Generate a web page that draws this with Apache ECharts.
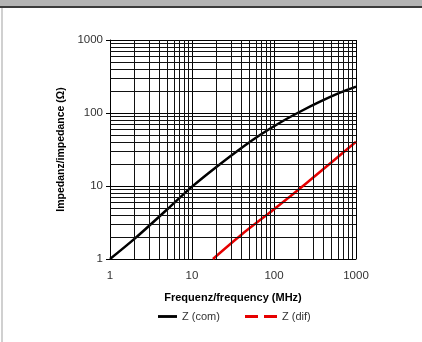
<!DOCTYPE html>
<html>
<head>
<meta charset="utf-8">
<script src="https://cdn.jsdelivr.net/npm/echarts@6/dist/echarts.min.js"></script>
<style>
  html, body { margin: 0; padding: 0; background: #fff; }
  #chart { width: 422px; height: 342px; }
</style>
</head>
<body>
<div id="chart"></div>
<script>
// values (log-log)
const comFreq = [1, 2, 5, 10, 20, 42, 67.5, 118, 207, 364, 638, 1000];
const comZ = [1, 1.9, 4.8, 9.8, 18.4, 34.5, 50, 73.6, 104, 143, 190, 230];
const difFreq = [18, 40, 100, 250, 500, 1000];
const difZ = [1, 2.15, 4.8, 11, 21, 40.4];
const decades = [1, 10, 100];
const minorSteps = [2, 3, 4, 5, 6, 7, 8, 9];

const FONT = '"Liberation Sans Narrow", "Liberation Sans", Arial, sans-serif';

// minor grid positions 2..9 in every decade
const minorVals = [];
decades.forEach(d => minorSteps.forEach(m => minorVals.push(d * m)));

const chart = echarts.init(document.getElementById('chart'));

const option = {
  backgroundColor: '#fff',
  animation: false,
  textStyle: { fontFamily: FONT },
  graphic: [
    { type: 'rect', shape: { x: 0, y: 0, width: 422, height: 6 }, style: { fill: '#b4b4b4' } },
    { type: 'rect', shape: { x: 0, y: 6, width: 422, height: 2 }, style: { fill: '#3c3c3c' } },
    { type: 'rect', shape: { x: 1, y: 8, width: 2, height: 334 }, style: { fill: '#d0d0d0' } }
  ],
  grid: { left: 110, right: 66, top: 40, bottom: 83 },
  legend: [
    {
      left: 153, top: 306, itemWidth: 19, itemHeight: 12, itemGap: 0,
      textStyle: { fontFamily: FONT, fontSize: 11, color: '#333' },
      data: [{ name: 'Z (com)', icon: 'path://M0,5L20,5L20,8L0,8Z', itemStyle: { color: '#000' } }]
    },
    {
      left: 240, top: 306, itemWidth: 32, itemHeight: 12, itemGap: 0,
      textStyle: { fontFamily: FONT, fontSize: 11, color: '#333' },
      data: [{ name: 'Z (dif)', icon: 'path://M0,5L13,5L13,8L0,8ZM19,5L32,5L32,8L19,8Z', itemStyle: { color: '#e60000' } }]
    }
  ],
  xAxis: {
    type: 'log', logBase: 10, min: 1, max: 1000,
    name: 'Frequenz/frequency (MHz)', nameLocation: 'middle', nameGap: 33,
    nameTextStyle: { fontFamily: FONT, fontWeight: 'bold', fontSize: 11, color: '#000' },
    axisLine: { show: true, lineStyle: { color: '#000', width: 1 } },
    axisTick: { show: false },
    axisLabel: { color: '#333', fontSize: 11.5, fontFamily: FONT, margin: 11, formatter: v => String(v) },
    splitLine: { show: true, lineStyle: { color: '#000', width: 1 } }
  },
  yAxis: {
    type: 'log', logBase: 10, min: 1, max: 1000,
    name: 'Impedanz/impedance (Ω)', nameLocation: 'middle', nameGap: 42,
    nameTextStyle: { fontFamily: FONT, fontWeight: 'bold', fontSize: 10.5, color: '#000' },
    axisLine: { show: true, lineStyle: { color: '#000', width: 1 } },
    axisTick: { show: true, length: 4, lineStyle: { color: '#000' } },
    axisLabel: { color: '#333', fontSize: 11.5, fontFamily: FONT, margin: 7, formatter: v => String(v) },
    splitLine: { show: true, lineStyle: { color: '#000', width: 1 } }
  },
  series: [
    {
      name: 'grid', type: 'line', data: [], silent: true,
      markLine: {
        silent: true, symbol: 'none', animation: false,
        label: { show: false },
        lineStyle: { color: '#111', width: 1, type: 'solid' },
        data: minorVals.map(v => ({ xAxis: v })).concat(minorVals.map(v => ({ yAxis: v })))
      }
    },
    {
      name: 'Z (com)', type: 'line', smooth: 0.3, symbol: 'none',
      lineStyle: { color: '#000', width: 2.5 }, itemStyle: { color: '#000' },
      data: comFreq.map((f, i) => [f, comZ[i]])
    },
    {
      name: 'Z (dif)', type: 'line', smooth: 0.3, symbol: 'none',
      lineStyle: { color: '#e60000', width: 2.5 }, itemStyle: { color: '#e60000' },
      data: difFreq.map((f, i) => [f, difZ[i]])
    }
  ]
};

chart.setOption(option);
</script>
</body>
</html>
